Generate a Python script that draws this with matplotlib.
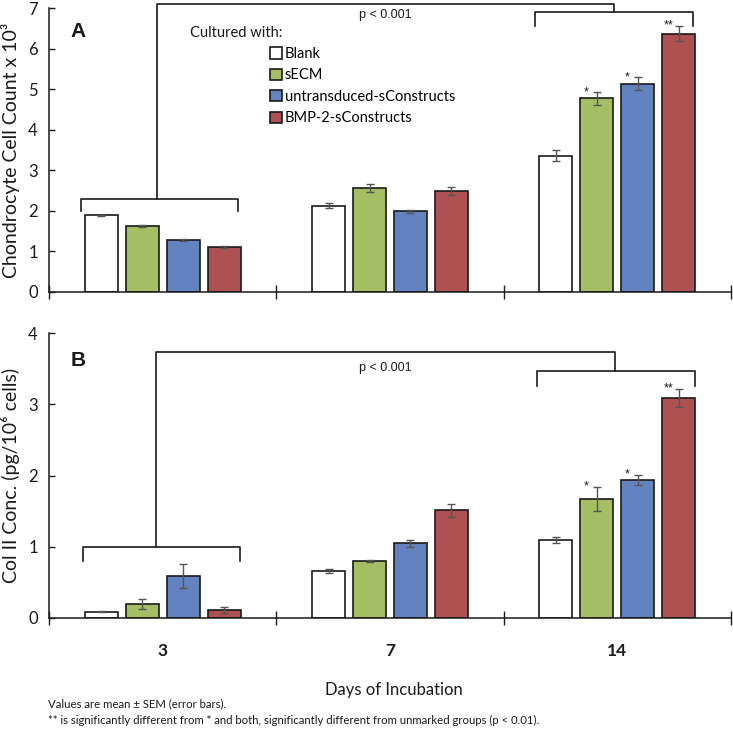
import matplotlib
matplotlib.use("Agg")
import matplotlib.pyplot as plt
import numpy as np

plt.rcParams['font.family'] = ['Lato', 'DejaVu Sans']

# Data
days = ["3", "7", "14"]
groups = ["Blank", "sECM", "untransduced-sConstructs", "BMP-2-sConstructs"]
colors = ["#FFFFFF", "#A5BD63", "#6283BF", "#AD5152"]

# Panel A: chondrocyte cell count x 10^3 (rows = groups, cols = days)
count_mean = [
    [1.89, 2.13, 3.36],
    [1.62, 2.56, 4.77],
    [1.28, 1.99, 5.13],
    [1.11, 2.49, 6.37],
]
count_sem = [
    [0.02, 0.07, 0.13],
    [0.02, 0.10, 0.15],
    [0.02, 0.04, 0.16],
    [0.02, 0.09, 0.19],
]

# Panel B: Col II concentration (pg/10^6 cells)
col2_mean = [
    [0.09, 0.66, 1.09],
    [0.19, 0.80, 1.67],
    [0.59, 1.05, 1.94],
    [0.11, 1.51, 3.09],
]
col2_sem = [
    [0.01, 0.03, 0.04],
    [0.07, 0.01, 0.17],
    [0.17, 0.05, 0.07],
    [0.04, 0.09, 0.13],
]

# significance marks for day 14
stars_day14 = ["", "*", "*", "**"]

fig = plt.figure(figsize=(7.33, 7.29), dpi=100)
axA = fig.add_axes([49/733, 1-292/729, 682/733, 284/729])
axB = fig.add_axes([49/733, 1-618/729, 682/733, 285/729])

x = np.arange(len(days))
step = 0.18
width = 0.145
ink = "#1a1a1a"


def draw_panel(ax, means, sems, ymax):
    for i, g in enumerate(groups):
        pos = x + (i - 1.5) * step
        ax.bar(pos, means[i], width, color=colors[i], edgecolor=ink,
               linewidth=1.2, label=g, zorder=2)
        ax.errorbar(pos, means[i], yerr=sems[i], fmt="none", ecolor="#555555",
                    elinewidth=1.0, capsize=3, capthick=1.0, zorder=3)
        if stars_day14[i]:
            ax.text(pos[2] - 0.045, means[i][2] + sems[i][2], stars_day14[i],
                    ha="center", va="center", fontsize=9, color=ink,
                    family=["Liberation Sans"])
    ax.set_xlim(-0.5, 2.5)
    ax.set_ylim(0, ymax)
    ax.set_yticks(range(0, ymax + 1))
    ax.tick_params(axis="y", direction="in", length=4, width=1, labelsize=12,
                   pad=8, colors=ink)
    ax.set_xticks([-0.5, 0.5, 1.5, 2.5])
    ax.set_xticklabels([])
    ax.tick_params(axis="x", which="major", direction="inout", length=10,
                   width=1, colors=ink)
    ax.spines["top"].set_visible(False)
    ax.spines["right"].set_visible(False)
    for s in ("left", "bottom"):
        ax.spines[s].set_color(ink)
        ax.spines[s].set_linewidth(1.1)


def bracket(ax, x0, x1, y, yend):
    ax.plot([x0, x0, x1, x1], [yend, y, y, yend], color=ink, lw=1.2,
            clip_on=False, zorder=4)


draw_panel(axA, count_mean, count_sem, 7)
draw_panel(axB, col2_mean, col2_sem, 4)

# Panel A annotations
bracket(axA, -0.36, 0.33, 2.29, 2.0)
bracket(axA, 1.64, 2.335, 6.9, 6.55)
axA.plot([-0.024, -0.024, 1.984, 1.984], [2.29, 7.1, 7.1, 6.9], color=ink,
         lw=1.2, clip_on=False, zorder=4)
axA.text(0.98, 6.83, "p < 0.001", ha="center", va="center", fontsize=9,
         color=ink, family=["Liberation Sans"])

# Panel B annotations
bracket(axB, -0.35, 0.342, 1.0, 0.8)
bracket(axB, 1.645, 2.342, 3.47, 3.25)
axB.plot([-0.029, -0.029, 1.99, 1.99], [1.0, 3.74, 3.74, 3.47], color=ink,
         lw=1.2, clip_on=False, zorder=4)
axB.text(0.98, 3.51, "p < 0.001", ha="center", va="center", fontsize=9,
         color=ink, family=["Liberation Sans"])

axA.text(0.031, 0.919, "A", transform=axA.transAxes, fontsize=15,
         fontweight="bold", ha="left", va="center", color=ink,
         family=["Liberation Sans"])
axB.text(0.031, 0.905, "B", transform=axB.transAxes, fontsize=15,
         fontweight="bold", ha="left", va="center", color=ink,
         family=["Liberation Sans"])

axA.set_ylabel("Chondrocyte Cell Count x 10³", fontsize=14, color=ink)
axA.yaxis.set_label_coords(-0.043, 0.5)
axB.set_ylabel("Col II Conc. (pg/10⁶ cells)", fontsize=14, color=ink)
axB.yaxis.set_label_coords(-0.043, 0.5)

# day labels on bottom panel
axB.set_xticks(x, minor=True)
axB.set_xticklabels(days, minor=True, fontsize=12.5, fontweight="bold")
axB.tick_params(axis="x", which="minor", length=0, pad=18, colors=ink)

# legend
fig.text(190/733, 1-33/729, "Cultured with:", fontsize=10.5, ha="left",
         va="center", color=ink)
axA.legend(loc="upper left", bbox_to_anchor=((270-49)/682, (292-47)/284),
           frameon=False, fontsize=10.5, handlelength=0.8, handleheight=0.8,
           handletextpad=0.2, labelspacing=0.51, borderpad=0, borderaxespad=0)

fig.text(394/733, 1-690/729, "Days of Incubation", ha="center", va="center",
         fontsize=12, color=ink)
fig.text(48/733, 1-704/729, "Values are mean ± SEM (error bars).",
         ha="left", va="center", fontsize=8.2, color=ink)
fig.text(48/733, 1-720/729,
         "** is significantly different from * and both, significantly different from unmarked groups (p < 0.01).",
         ha="left", va="center", fontsize=8.2, color=ink)

fig.savefig("out.png", dpi=100)
